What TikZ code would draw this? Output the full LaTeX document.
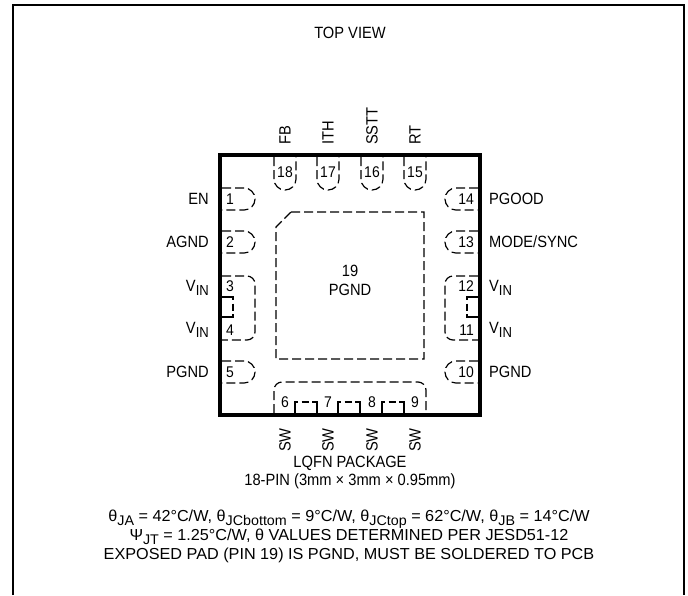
\documentclass[tikz,border=0pt]{standalone}
\usepackage{fontspec}
\setmainfont{Liberation Sans}[FakeStretch=0.9]
\newfontfamily\notefont{Liberation Sans}[FakeStretch=1.02]
\newcommand\sbs[2][14]{\raisebox{-0.45ex}{\fontsize{#1}{#1}\selectfont #2}}
\begin{document}
\begin{tikzpicture}[x=1pt,y=-1pt,
  lbl/.style={inner sep=0pt,font=\fontsize{16.3}{18}\selectfont},
  num/.style={inner sep=0pt,font=\fontsize{15.5}{18}\selectfont},
  note/.style={inner sep=0pt,font=\notefont\fontsize{15.9}{18}\selectfont},
  pkg/.style={line width=3.8pt},
  pad/.style={line width=1.2pt,dash pattern=on 9pt off 4pt},
  notch/.style={line width=1.2pt,dash pattern=on 14pt off 3.5pt on 7pt off 3.5pt on 20pt},
  frame/.style={line width=1.2pt}]
\useasboundingbox (0,0) rectangle (688,595);
% outer frame
\coordinate (f1) at (13,595);
\coordinate (f2) at (13,5);
\coordinate (f3) at (684,5);
\coordinate (f4) at (684,595);
\draw[frame] (f1) -- (f2) -- (f3) -- (f4);
% package
\draw[pkg] (220,155) rectangle (480,415);
% exposed pad
\draw[pad] (291,212) -- (424,212) -- (424,359) -- (276,359) -- (276,227) -- cycle;
\node[lbl] (p19) at (350,271) {19};
\node[lbl] (p19n) at (350,290) {PGND};
% top pads
\foreach \x/\n/\t in {285/18/FB,328/17/ITH,372/16/SSTT,415/15/RT}{
  \draw[pad,rounded corners=10.9pt] (\x-11,157) -- (\x-11,190) -- (\x+11,190) -- (\x+11,157);
  \node[num] (n\n) at (\x,172) {\n};
  \node[lbl,rotate=90,anchor=west] (l\n) at (\x,145) {\t};
}
% left pads
\foreach \y/\n/\t in {199/1/EN,242/2/AGND,372/5/PGND}{
  \draw[pad,rounded corners=10.9pt] (222,\y-11) -- (255,\y-11) -- (255,\y+11) -- (222,\y+11);
  \node[num,anchor=west] (n\n) at (226,\y) {\n};
  \node[lbl,anchor=east] (l\n) at (209,\y) {\t};
}
\draw[pad,rounded corners=8pt] (222,276) -- (255,276) -- (255,340) -- (222,340);
\draw[notch] (222,297) -- (233,297) -- (233,317) -- (222,317);
\node[num,anchor=west] (n3) at (226,286) {3};
\node[num,anchor=west] (n4) at (226,330) {4};
\node[lbl,anchor=east] (l3) at (209,288) {V\sbs[14.5]{IN}};
\node[lbl,anchor=east] (l4) at (209,330) {V\sbs[14.5]{IN}};
% right pads
\foreach \y/\n/\t in {199/14/PGOOD,242/13/{MODE/SYNC},372/10/PGND}{
  \draw[pad,rounded corners=10.9pt] (478,\y-11) -- (445,\y-11) -- (445,\y+11) -- (478,\y+11);
  \node[num,anchor=east] (n\n) at (474,\y) {\n};
  \node[lbl,anchor=west] (l\n) at (489,\y) {\t};
}
\draw[pad,rounded corners=8pt] (478,276) -- (445,276) -- (445,340) -- (478,340);
\draw[notch] (478,297) -- (467,297) -- (467,317) -- (478,317);
\node[num,anchor=east] (n12) at (474,286) {12};
\node[num,anchor=east] (n11) at (474,330) {11};
\node[lbl,anchor=west] (l12) at (489,288) {V\sbs[14.5]{IN}};
\node[lbl,anchor=west] (l11) at (489,330) {V\sbs[14.5]{IN}};
% bottom pads
\draw[pad,rounded corners=8pt] (274,413) -- (274,382) -- (426,382) -- (426,413);
\foreach \a/\b in {295/317,338/360,382/404}{
  \draw[notch] (\a,413) -- (\a,402) -- (\b,402) -- (\b,413);
}
\foreach \x/\n in {285/6,328/7,372/8,415/9}{
  \node[num] (n\n) at (\x,402) {\n};
  \node[lbl,rotate=90,anchor=east] (l\n) at (\x,428) {SW};
}
% texts
\node[lbl] (title) at (350,33) {TOP VIEW};
\node[lbl] (t1) at (350,463) {LQFN PACKAGE};
\node[lbl] (t2) at (350,481) {18-PIN (3mm × 3mm × 0.95mm)};
\node[note] (t3) at (349,519) {θ\sbs{JA} = 42°C/W, θ\sbs{JCbottom} = 9°C/W, θ\sbs{JCtop} = 62°C/W, θ\sbs{JB} = 14°C/W};
\node[note] (t4) at (349,537) {Ψ\sbs{JT} = 1.25°C/W, θ VALUES DETERMINED PER JESD51-12};
\node[note] (t5) at (349,555) {EXPOSED PAD (PIN 19) IS PGND, MUST BE SOLDERED TO PCB};
\end{tikzpicture}
\end{document}
